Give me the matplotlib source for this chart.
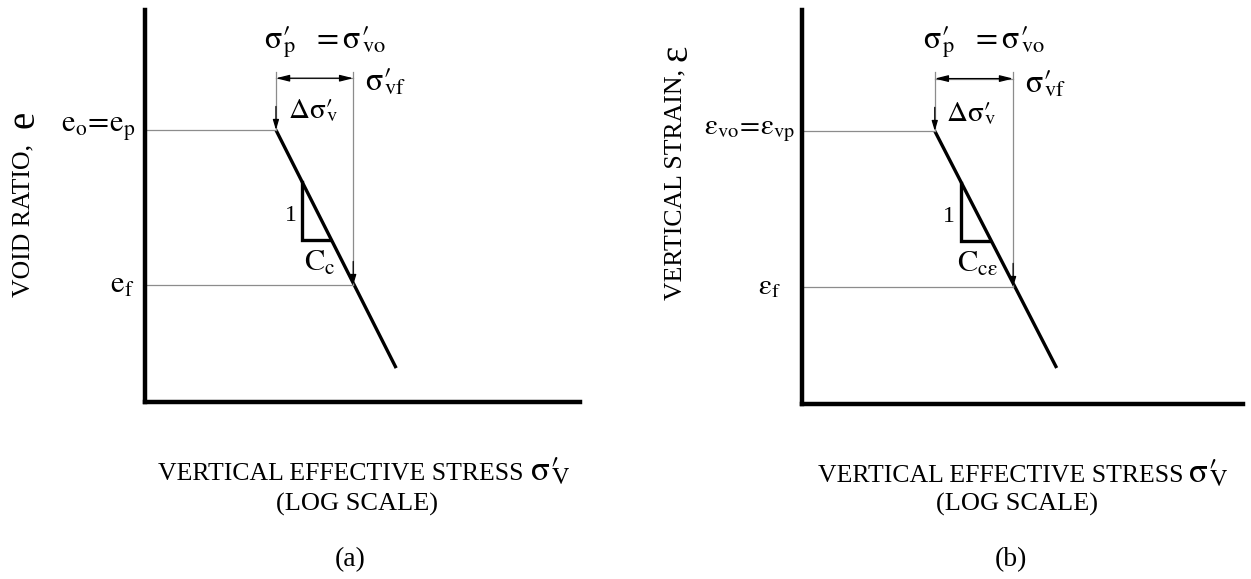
import matplotlib.pyplot as plt

plt.rcParams['font.family'] = ['Liberation Serif', 'DejaVu Serif']
plt.rcParams['mathtext.fontset'] = 'stix'

# schematic values (stress on a log axis, e / eps linear)
stress = [8.0, 54.0]            # start / end of the virgin compression line
stress_p = 8.0
stress_f = 27.3
tri_stress = [12.1, 12.1, 18.6]

void = [1.388, 0.173]
e_o = 1.388
e_f = 0.597
tri_void = [1.122, 0.827, 0.827]

strain = [1.386, 0.183]
eps_o = 1.386
eps_f = 0.594
tri_strain = [1.122, 0.830, 0.830]

dim_level = 1.652
guide_top = 1.685

GREY = '#8c8c8c'


def draw(ax, yline, y_o, y_f, tri_y):
    ax.set_xscale('log')
    ax.set_xlim(1, 1000)
    ax.set_ylim(0, 2)
    for s in ['top', 'right']:
        ax.spines[s].set_visible(False)
    for s in ['left', 'bottom']:
        ax.spines[s].set_linewidth(3.2)
    ax.set_xticks([])
    ax.set_yticks([])
    ax.minorticks_off()
    ax.tick_params(which='both', length=0)

    ax.plot(stress, yline, color='black', lw=2.4, solid_capstyle='butt')
    ax.plot(tri_stress, tri_y, color='black', lw=2.4, solid_joinstyle='miter')

    # guide lines
    ax.plot([1, stress_p], [y_o, y_o], color=GREY, lw=0.9)
    ax.plot([1, stress_f], [y_f, y_f], color=GREY, lw=0.9)
    arr = dict(arrowstyle='-|>,head_length=0.6,head_width=0.18', color='black',
               lw=0.9, shrinkA=0, shrinkB=0)
    for s, yt in [(stress_p, y_o), (stress_f, y_f)]:
        ax.plot([s, s], [guide_top, yt], color=GREY, lw=0.9)
        ax.annotate('', xy=(s, yt), xytext=(s, yt + 0.12), arrowprops=arr)
    ax.annotate('', xy=(stress_p, dim_level), xytext=(stress_f, dim_level),
                arrowprops=dict(arrowstyle='<|-|>,head_length=0.8,head_width=0.2',
                                color='black', lw=0.9, shrinkA=0, shrinkB=0))
    ax.plot([stress_p, stress_f], [dim_level, dim_level], color=GREY, lw=0.9)


fig = plt.figure(figsize=(12.51, 5.79), dpi=100)
axa = fig.add_axes([0.1159, 0.3057, 0.3477, 0.677])
axb = fig.add_axes([0.6411, 0.3022, 0.3525, 0.6805])
draw(axa, void, e_o, e_f, tri_void)
draw(axb, strain, eps_o, eps_f, tri_strain)

sig = r'\mathrm{\sigma}\prime\!\!'
for ax, dx, dy in [(axa, 0.0, 0.0), (axb, -0.001, -0.004)]:
    t = ax.transAxes
    ax.text(0.414 + dx, 0.918, r'$%s_{\rm p}\ \ =%s_{\rm vo}$' % (sig, sig),
            transform=t, ha='center', va='center', fontsize=23)
    ax.text(0.554 + dx, 0.814 + dy, r'$%s_{\rm vf}$' % sig, transform=t,
            ha='center', va='center', fontsize=23)
    ax.text(0.386 + dx, 0.742 + dy, r'$\Delta%s_{\rm v}$' % sig, transform=t,
            ha='center', va='center', fontsize=21)
    ax.text(0.335 + dx, 0.477, '1', transform=t, ha='center', va='center', fontsize=17)

axa.text(0.402, 0.355, r'$\mathrm{C}_{\rm c}$', transform=axa.transAxes,
         ha='center', va='center', fontsize=22)
axb.text(0.397, 0.355, r'$\mathrm{C}_{\rm c\varepsilon}$', transform=axb.transAxes,
         ha='center', va='center', fontsize=22)

axa.text(-0.022, 0.699, r'$\mathrm{e}_{\rm o}\!=\!\mathrm{e}_{\rm p}$',
         transform=axa.transAxes, ha='right', va='center', fontsize=22)
axa.text(-0.025, 0.298, r'$\mathrm{e}_{\rm f}$', transform=axa.transAxes,
         ha='right', va='center', fontsize=22)
axb.text(-0.016, 0.693,
         r'$\mathrm{\varepsilon}_{\rm vo}\!=\!\mathrm{\varepsilon}_{\rm vp}$',
         transform=axb.transAxes, ha='right', va='center', fontsize=21)
axb.text(-0.048, 0.297, r'$\mathrm{\varepsilon}_{\rm f}$', transform=axb.transAxes,
         ha='right', va='center', fontsize=21)

# rotated axis titles: words plus a larger symbol on top
axa.text(-0.280, 0.268, 'VOID RATIO,', transform=axa.transAxes,
         rotation=90, ha='center', va='bottom', fontsize=18.5)
axa.text(-0.278, 0.700, 'e', transform=axa.transAxes,
         rotation=90, ha='center', va='bottom', fontsize=28)
axb.text(-0.286, 0.264, 'VERTICAL STRAIN,', transform=axb.transAxes,
         rotation=90, ha='center', va='bottom', fontsize=18.5)
axb.text(-0.284, 0.870, 'ε', transform=axb.transAxes,
         rotation=90, ha='center', va='bottom', fontsize=28)

# x titles: words, then a larger sigma'_V
for xw, xs, yb, xc, lab in [(523, 530, 0.171, 0.285, '(a)'),
                            (1183, 1188, 0.168, 0.813, '(b)')]:
    fig.text(xw / 1251, yb, 'VERTICAL EFFECTIVE STRESS', ha='right',
             va='baseline', fontsize=18.5)
    fig.text(xs / 1251, yb, r'$\mathrm{\sigma}\prime\!\!_{\rm V}$', ha='left',
             va='baseline', fontsize=25)
    fig.text(xc, 0.128, '(LOG SCALE)', ha='center', va='center', fontsize=19)
    fig.text(xc - 0.005, 0.033, lab, ha='center', va='center', fontsize=20)

fig.savefig('out.png', dpi=100)
